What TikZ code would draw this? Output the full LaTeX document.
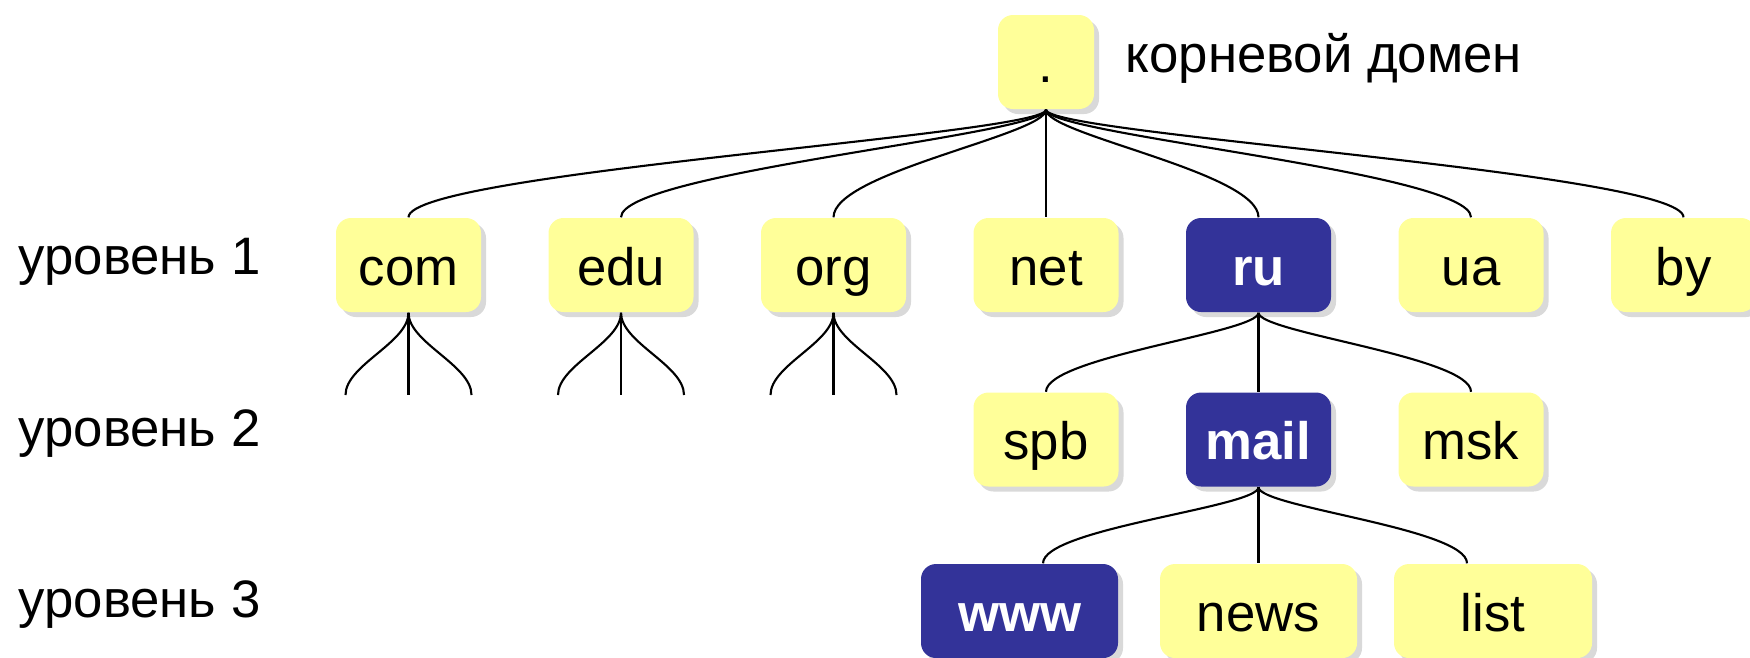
\documentclass[tikz,border=0pt]{standalone}
\usepackage{fontspec}
\setmainfont{Liberation Sans}
\usepackage{tikz}
\usetikzlibrary{shadows}
\definecolor{domyellow}{HTML}{FFFF99}
\definecolor{domblue}{HTML}{333399}

\begin{document}
\begin{tikzpicture}[font=\fontsize{15}{18}\selectfont]
\tikzset{dombox/.style = {shape=rectangle,rounded corners=0.15cm,fill=domyellow,minimum width=1.45cm,minimum height=0.94cm,inner sep=0pt,text height=0.52cm,text depth=0.12cm,drop shadow={shadow xshift=0.05cm,shadow yshift=-0.05cm,opacity=0.3}}}
\tikzset{selbox/.style = {dombox,fill=domblue,text=white,font=\fontsize{15}{18}\selectfont\bfseries}}
\tikzset{edge/.style = {line width=0.6pt,to path={.. controls +(0,-0.25) and +(0,0.45) .. (\tikztotarget)}}}
\tikzset{subedge/.style = {line width=0.6pt,to path={.. controls +(0,-0.2) and +(0,0.35) .. (\tikztotarget)}}}
\tikzset{stub/.style = {line width=0.6pt,to path={.. controls +(0,-0.3) and +(0,0.3) .. (\tikztotarget)}}}
\useasboundingbox (0,0) rectangle (17.5,-6.57);
% root
\node[dombox,minimum width=0.96cm] (root) at (10.46,-0.62) {.};
\node[anchor=base west,inner sep=0pt] (rootlabel) at (11.25,-0.72) {корневой домен};
% level labels
\node[anchor=base west,inner sep=0pt] (lev1) at (0.18,-2.74) {уровень 1};
\node[anchor=base west,inner sep=0pt] (lev2) at (0.18,-4.46) {уровень 2};
\node[anchor=base west,inner sep=0pt] (lev3) at (0.18,-6.17) {уровень 3};
% level 1
\node[dombox] (com) at (4.085,-2.65) {com};
\node[dombox] (edu) at (6.21,-2.65)  {edu};
\node[dombox] (org) at (8.335,-2.65) {org};
\node[dombox] (net) at (10.46,-2.65) {net};
\node[selbox] (ru)  at (12.585,-2.65) {ru};
\node[dombox] (ua)  at (14.71,-2.65) {ua};
\node[dombox] (by)  at (16.835,-2.65) {by};
% level 2
\node[dombox] (spb)  at (10.46,-4.395)  {spb};
\node[selbox] (mail) at (12.585,-4.395) {mail};
\node[dombox] (msk)  at (14.71,-4.395)  {msk};
% level 3
\node[selbox,minimum width=1.97cm] (www)  at (10.195,-6.11) {www};
\node[dombox,minimum width=1.97cm] (news) at (12.585,-6.11) {news};
\node[dombox,minimum width=1.98cm] (list) at (14.93,-6.11)  {list};
% open ends
\coordinate (com-l) at (3.455,-3.95);
\coordinate (com-m) at (4.085,-3.95);
\coordinate (com-r) at (4.715,-3.95);
\coordinate (edu-l) at (5.58,-3.95);
\coordinate (edu-m) at (6.21,-3.95);
\coordinate (edu-r) at (6.84,-3.95);
\coordinate (org-l) at (7.705,-3.95);
\coordinate (org-m) at (8.335,-3.95);
\coordinate (org-r) at (8.965,-3.95);
\draw[edge] (root.south) to (com.north);
\draw[edge] (root.south) to (edu.north);
\draw[edge] (root.south) to (org.north);
\draw[edge] (root.south) to (net.north);
\draw[edge] (root.south) to (ru.north);
\draw[edge] (root.south) to (ua.north);
\draw[edge] (root.south) to (by.north);
\draw[stub] (com.south) to (com-l);
\draw[stub] (com.south) to (com-m);
\draw[stub] (com.south) to (com-r);
\draw[stub] (edu.south) to (edu-l);
\draw[stub] (edu.south) to (edu-m);
\draw[stub] (edu.south) to (edu-r);
\draw[stub] (org.south) to (org-l);
\draw[stub] (org.south) to (org-m);
\draw[stub] (org.south) to (org-r);
\draw[subedge] (ru.south) to (spb.north);
\draw[subedge] (ru.south) to (mail.north);
\draw[subedge] (ru.south) to (msk.north);
\draw[subedge] (mail.south) to ([xshift=0.235cm]www.north);
\draw[subedge] (mail.south) to (news.north);
\draw[subedge] (mail.south) to ([xshift=-0.26cm]list.north);
\end{tikzpicture}
\end{document}
